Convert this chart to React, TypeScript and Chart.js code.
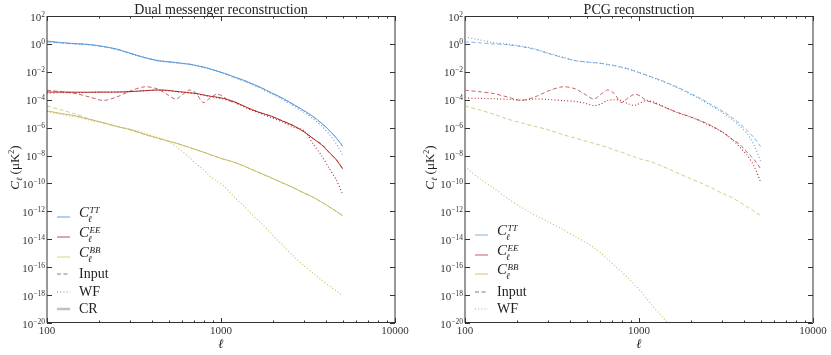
import React, { useEffect, useRef } from "react";
import { Chart, registerables } from "chart.js";

Chart.register(...registerables);

// multipole values (x positions of samples)
const ELL = [100, 120, 145, 175, 210, 250, 300, 365, 430, 490, 550, 605, 660, 720, 790, 870, 950, 1030, 1100, 1200, 1350, 1500, 1700, 1950, 2250, 2600, 3000, 3400, 3800, 4200, 4600, 5000];

const TT_INPUT = [0.15, 0.08, 0.0, -0.06, -0.2, -0.38, -0.68, -0.98, -1.2, -1.28, -1.34, -1.4, -1.46, -1.55, -1.66, -1.8, -1.95, -2.1, -2.22, -2.4, -2.62, -2.86, -3.15, -3.52, -3.9, -4.35, -4.8, -5.25, -5.72, -6.22, -6.75, -7.35];
const TT_CR_DM = [0.2, 0.1, 0.02, -0.04, -0.18, -0.36, -0.66, -0.98, -1.18, -1.27, -1.33, -1.4, -1.45, -1.55, -1.65, -1.8, -1.94, -2.08, -2.2, -2.38, -2.6, -2.84, -3.13, -3.5, -3.88, -4.32, -4.78, -5.22, -5.7, -6.2, -6.75, -7.3];
const TT_WF_DM = [0.18, 0.06, 0.0, -0.07, -0.2, -0.4, -0.7, -1.0, -1.22, -1.3, -1.36, -1.42, -1.48, -1.57, -1.68, -1.82, -1.97, -2.12, -2.25, -2.43, -2.66, -2.9, -3.2, -3.57, -3.97, -4.43, -4.9, -5.38, -5.9, -6.48, -7.15, -7.95];
const TT_WF_PCG = [0.5, 0.3, 0.1, -0.02, -0.15, -0.35, -0.65, -0.95, -1.2, -1.3, -1.35, -1.38, -1.5, -1.56, -1.68, -1.8, -1.97, -2.1, -2.25, -2.42, -2.66, -2.9, -3.2, -3.57, -3.97, -4.43, -4.9, -5.38, -5.88, -6.45, -7.3, -8.4];

const EE_INPUT = [-3.32, -3.42, -3.55, -3.8, -4.05, -3.82, -3.38, -3.07, -3.22, -3.62, -3.95, -3.6, -3.3, -3.55, -4.2, -3.85, -3.6, -3.78, -4.05, -4.2, -4.45, -4.7, -4.95, -5.2, -5.5, -5.85, -6.3, -6.8, -7.2, -7.8, -8.3, -8.95];
const EE_CR_DM = [-3.45, -3.45, -3.46, -3.46, -3.45, -3.45, -3.42, -3.35, -3.3, -3.32, -3.4, -3.45, -3.5, -3.55, -3.65, -3.75, -3.82, -3.9, -4.0, -4.15, -4.45, -4.7, -4.95, -5.18, -5.52, -5.85, -6.3, -6.8, -7.25, -7.8, -8.3, -8.95];
const EE_WF_DM = [-3.52, -3.5, -3.5, -3.48, -3.47, -3.46, -3.42, -3.36, -3.32, -3.35, -3.42, -3.47, -3.52, -3.58, -3.68, -3.78, -3.86, -3.95, -4.05, -4.2, -4.5, -4.75, -5.0, -5.28, -5.6, -5.95, -6.22, -7.2, -8.05, -8.95, -9.75, -10.8];
const EE_WF_PCG = [-3.88, -3.9, -3.93, -3.97, -4.02, -3.95, -3.98, -4.07, -4.12, -4.25, -4.42, -4.3, -4.05, -4.0, -4.05, -4.3, -4.4, -4.2, -4.05, -4.15, -4.42, -4.68, -4.97, -5.22, -5.52, -5.9, -6.3, -6.8, -7.4, -8.0, -8.8, -9.9];

const BB_INPUT = [-4.45, -4.72, -5.02, -5.38, -5.65, -5.9, -6.15, -6.5, -6.75, -6.95, -7.12, -7.28, -7.42, -7.6, -7.75, -7.95, -8.12, -8.27, -8.35, -8.5, -8.75, -9.0, -9.3, -9.62, -9.95, -10.3, -10.7, -11.0, -11.35, -11.7, -12.0, -12.3];
const BB_CR_DM = [-4.8, -4.98, -5.15, -5.4, -5.64, -5.9, -6.14, -6.48, -6.74, -6.94, -7.1, -7.27, -7.42, -7.58, -7.75, -7.93, -8.1, -8.25, -8.35, -8.5, -8.74, -9.0, -9.28, -9.6, -9.95, -10.3, -10.68, -11.0, -11.35, -11.68, -12.0, -12.3];
const BB_WF_DM = [-4.85, -5.05, -5.22, -5.45, -5.68, -5.92, -6.1, -6.4, -6.7, -6.95, -7.35, -7.75, -8.15, -8.6, -9.0, -9.5, -9.85, -10.15, -10.5, -11.0, -11.6, -12.2, -12.85, -13.6, -14.4, -15.2, -15.9, -16.45, -16.95, -17.35, -17.7, -18.05];
const BB_WF_PCG = [-8.8, -9.6, -10.3, -11.05, -11.7, -12.25, -12.74, -13.3, -13.8, -14.2, -14.6, -15.0, -15.45, -15.85, -16.3, -16.8, -17.3, -17.75, -18.2, -18.8, -19.5, -20.15, null, null, null, null, null, null, null, null, null, null];

// axis ticks
const X_MAJOR = [100, 1000, 10000];
const X_MINOR = [200, 300, 400, 500, 600, 700, 800, 900, 2000, 3000, 4000, 5000, 6000, 7000, 8000, 9000];
const Y_MAJOR_EXP = [2, 0, -2, -4, -6, -8, -10, -12, -14, -16, -18, -20];

const TITLES = ["Dual messenger reconstruction", "PCG reconstruction"];

const SERIF = '"Liberation Serif", "DejaVu Serif", serif';
const BLUE = "#5e9bd6";
const BLUE_A = "rgba(94,155,214,0.85)";
const RED = "#b02a2a";
const RED_A = "rgba(176,42,42,0.8)";
const YEL = "#c4bc66";
const YEL_A = "rgba(196,188,102,0.85)";

const DASH = [4, 2.5];
const DOT = [1, 2.2];

function pts(logs: (number | null)[]) {
  return ELL.map((l, i) => ({ x: l, y: logs[i] == null ? null : Math.pow(10, logs[i] as number) }));
}

function ds(logs: (number | null)[], color: string, kind: "solid" | "dash" | "dot") {
  return {
    data: pts(logs),
    borderColor: color,
    borderWidth: kind === "solid" ? 1.0 : kind === "dash" ? 0.9 : 1.1,
    borderDash: kind === "solid" ? [] : kind === "dash" ? DASH : DOT,
    pointRadius: 0,
    fill: false,
    tension: 0.3,
    spanGaps: false,
  };
}

type LegendItem = {
  y: number;
  color: string;
  width: number;
  dash: number[];
  label?: string;
  sup?: string;
};

type Panel = {
  title: string;
  width: number;
  padLeft: number;
  padRight: number;
  frameV: { color: string; width: number };
  datasets: any[];
  legend: { x0: number; x1: number; tx: number; items: LegendItem[] };
};

function drawPow(ctx: CanvasRenderingContext2D, exp: number, xRight: number, y: number) {
  const base = "10";
  const sup = exp < 0 ? "\u2212" + String(-exp) : String(exp);
  ctx.font = `11px ${SERIF}`;
  const wb = ctx.measureText(base).width;
  ctx.font = `7.5px ${SERIF}`;
  const ws = ctx.measureText(sup).width;
  const x0 = xRight - wb - ws;
  ctx.textAlign = "left";
  ctx.textBaseline = "alphabetic";
  ctx.font = `11px ${SERIF}`;
  ctx.fillText(base, x0, y + 4.5);
  ctx.font = `7.5px ${SERIF}`;
  ctx.fillText(sup, x0 + wb, y + 0.5);
}

function makeDecor(p: Panel) {
  return {
    id: "decor",
    afterDraw(chart: any) {
      const ctx: CanvasRenderingContext2D = chart.ctx;
      const a = chart.chartArea;
      const xs = chart.scales.x;
      const ys = chart.scales.y;
      ctx.save();
      // frame
      ctx.setLineDash([]);
      ctx.strokeStyle = "#333";
      ctx.lineWidth = 1;
      ctx.beginPath();
      ctx.moveTo(a.left, Math.round(a.top) + 0.5);
      ctx.lineTo(a.right, Math.round(a.top) + 0.5);
      ctx.moveTo(a.left, Math.round(a.bottom) - 0.5);
      ctx.lineTo(a.right, Math.round(a.bottom) - 0.5);
      ctx.stroke();
      ctx.strokeStyle = p.frameV.color;
      ctx.lineWidth = p.frameV.width;
      ctx.beginPath();
      ctx.moveTo(a.left, a.top);
      ctx.lineTo(a.left, a.bottom);
      ctx.moveTo(a.right, a.top);
      ctx.lineTo(a.right, a.bottom);
      ctx.stroke();

      // ticks
      ctx.strokeStyle = "#333";
      ctx.lineWidth = 1;
      ctx.beginPath();
      const xt = (v: number, len: number) => {
        const px = Math.round(xs.getPixelForValue(v)) + 0.5;
        ctx.moveTo(px, a.bottom);
        ctx.lineTo(px, a.bottom - len);
        ctx.moveTo(px, a.top);
        ctx.lineTo(px, a.top + len);
      };
      X_MAJOR.forEach((v) => xt(v, 5));
      X_MINOR.forEach((v) => xt(v, 2.5));
      Y_MAJOR_EXP.forEach((e) => {
        const py = Math.round(ys.getPixelForValue(Math.pow(10, e))) + 0.5;
        ctx.moveTo(a.left, py);
        ctx.lineTo(a.left + 5, py);
        ctx.moveTo(a.right, py);
        ctx.lineTo(a.right - 5, py);
      });
      ctx.stroke();

      // tick labels
      ctx.fillStyle = "#333";
      ctx.font = `11px ${SERIF}`;
      ctx.textAlign = "center";
      ctx.textBaseline = "alphabetic";
      X_MAJOR.forEach((v) => {
        const px = xs.getPixelForValue(v);
        ctx.fillText(String(v), px, 333.5);
      });
      Y_MAJOR_EXP.forEach((e) => {
        const py = ys.getPixelForValue(Math.pow(10, e));
        drawPow(ctx, e, a.left - 2, py);
      });

      // title
      ctx.fillStyle = "#222";
      ctx.font = `14px ${SERIF}`;
      ctx.textAlign = "center";
      ctx.fillText(p.title, (a.left + a.right) / 2, 13.5);

      // x title
      ctx.font = `italic 13px ${SERIF}`;
      ctx.fillText("\u2113", (a.left + a.right) / 2, 347.5);

      // y title rotated
      ctx.save();
      ctx.translate(19, (a.top + a.bottom) / 2 - 2);
      ctx.rotate(-Math.PI / 2);
      const segs: { t: string; f: string; dy: number }[] = [
        { t: "C", f: `italic 13px ${SERIF}`, dy: 0 },
        { t: "\u2113", f: `italic 8px ${SERIF}`, dy: 3 },
        { t: " (\u03bcK", f: `13px ${SERIF}`, dy: 0 },
        { t: "2", f: `8px ${SERIF}`, dy: -5 },
        { t: ")", f: `13px ${SERIF}`, dy: 0 },
      ];
      let tw = 0;
      segs.forEach((s) => {
        ctx.font = s.f;
        tw += ctx.measureText(s.t).width;
      });
      let cx = -tw / 2;
      ctx.textAlign = "left";
      segs.forEach((s) => {
        ctx.font = s.f;
        ctx.fillText(s.t, cx, s.dy);
        cx += ctx.measureText(s.t).width;
      });
      ctx.restore();

      // legend
      const L = p.legend;
      L.items.forEach((it) => {
        ctx.strokeStyle = it.color;
        ctx.lineWidth = it.width;
        ctx.setLineDash(it.dash);
        ctx.beginPath();
        ctx.moveTo(L.x0, it.y);
        ctx.lineTo(L.x1, it.y);
        ctx.stroke();
        ctx.setLineDash([]);
        ctx.fillStyle = "#222";
        ctx.textAlign = "left";
        if (it.sup) {
          ctx.font = `italic 15px ${SERIF}`;
          ctx.fillText("C", L.tx, it.y);
          const wc = ctx.measureText("C").width;
          ctx.font = `italic 9px ${SERIF}`;
          ctx.fillText(it.sup, L.tx + wc + 0.5, it.y - 4.5);
          ctx.fillText("\u2113", L.tx + wc - 1, it.y + 4.5);
        } else if (it.label) {
          ctx.font = `14px ${SERIF}`;
          ctx.fillText(it.label, L.tx, it.y + 4);
        }
      });
      ctx.restore();
    },
  };
}

const LEFT: Panel = {
  title: TITLES[0],
  width: 415,
  padLeft: 47,
  padRight: 20,
  frameV: { color: "#333", width: 1 },
  datasets: [
    ds(BB_INPUT, YEL_A, "dash"),
    ds(BB_WF_DM, YEL, "dot"),
    ds(BB_CR_DM, YEL, "solid"),
    ds(EE_INPUT, RED_A, "dash"),
    ds(EE_WF_DM, RED, "dot"),
    ds(EE_CR_DM, RED, "solid"),
    ds(TT_INPUT, BLUE_A, "dash"),
    ds(TT_WF_DM, BLUE, "dot"),
    ds(TT_CR_DM, BLUE, "solid"),
  ],
  legend: {
    x0: 57,
    x1: 70,
    tx: 79,
    items: [
      { y: 217, color: "#86b0db", width: 1.2, dash: [], sup: "TT" },
      { y: 237, color: "#d36565", width: 1.2, dash: [], sup: "EE" },
      { y: 257, color: "#e2d9a2", width: 1.2, dash: [], sup: "BB" },
      { y: 274, color: "#6f8a8a", width: 1, dash: DASH, label: "Input" },
      { y: 292, color: "#6f8a8a", width: 1.2, dash: DOT, label: "WF" },
      { y: 309, color: "#b9c4c4", width: 2.5, dash: [], label: "CR" },
    ],
  },
};

const RIGHT: Panel = {
  title: TITLES[1],
  width: 416,
  padLeft: 50,
  padRight: 18,
  frameV: { color: "#999", width: 2 },
  datasets: [
    ds(BB_INPUT, YEL_A, "dash"),
    ds(BB_WF_PCG, YEL, "dot"),
    ds(EE_INPUT, RED_A, "dash"),
    ds(EE_WF_PCG, RED, "dot"),
    ds(TT_INPUT, BLUE_A, "dash"),
    ds(TT_WF_PCG, BLUE, "dot"),
  ],
  legend: {
    x0: 60,
    x1: 73,
    tx: 82,
    items: [
      { y: 235, color: "#aecbe6", width: 1.5, dash: [], sup: "TT" },
      { y: 255, color: "#df9090", width: 1.5, dash: [], sup: "EE" },
      { y: 274, color: "#ead996", width: 1.5, dash: [], sup: "BB" },
      { y: 292, color: "#6f8080", width: 1, dash: DASH, label: "Input" },
      { y: 309, color: "#9aaea0", width: 1.2, dash: DOT, label: "WF" },
    ],
  },
};

function PanelChart({ panel }: { panel: Panel }) {
  const ref = useRef<HTMLCanvasElement | null>(null);
  useEffect(() => {
    if (!ref.current) return;
    const chart = new Chart(ref.current, {
      type: "line",
      data: { datasets: panel.datasets },
      options: {
        responsive: false,
        animation: false,
        events: [],
        layout: { padding: { left: panel.padLeft, right: panel.padRight, top: 16, bottom: 32 } },
        plugins: { legend: { display: false }, tooltip: { enabled: false }, title: { display: false } },
        scales: {
          x: { type: "logarithmic", min: 100, max: 10000, display: false },
          y: { type: "logarithmic", min: 1e-20, max: 100, display: false },
        },
      } as any,
      plugins: [makeDecor(panel)],
    } as any);
    return () => chart.destroy();
  }, [panel]);
  return <canvas ref={ref} width={panel.width} height={355} style={{ display: "block", width: panel.width, height: 355 }} />;
}

export default function App() {
  useEffect(() => {
    document.body.style.margin = "0";
    document.body.style.background = "#fff";
  }, []);
  return (
    <div style={{ display: "flex", width: 831, height: 355, background: "#fff" }}>
      <PanelChart panel={LEFT} />
      <PanelChart panel={RIGHT} />
    </div>
  );
}
